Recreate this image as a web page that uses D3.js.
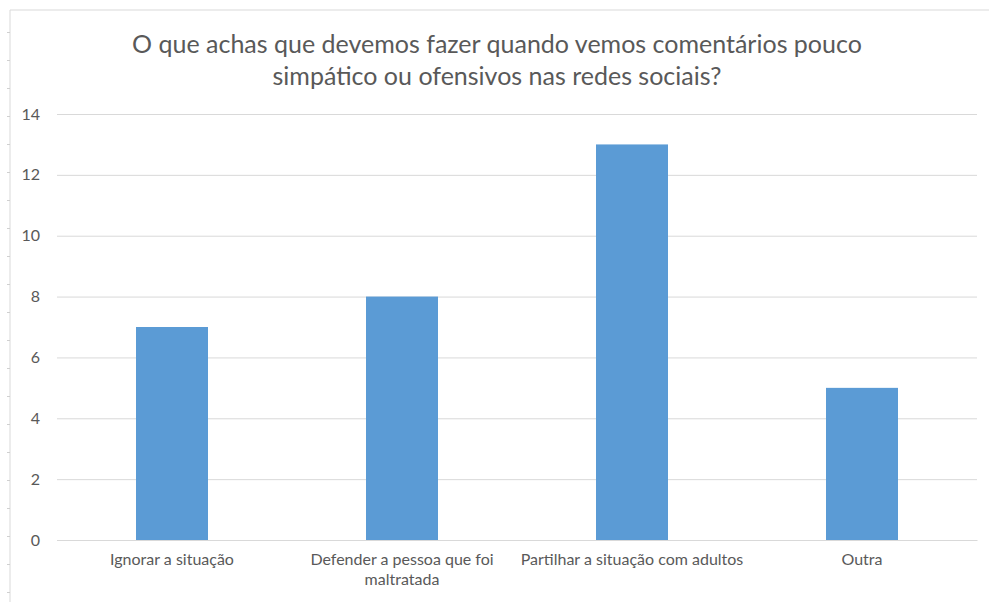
<!DOCTYPE html>
<html>
<head>
<meta charset="utf-8">
<script src="https://cdn.jsdelivr.net/npm/d3@7"></script>
<style>
  html, body { margin: 0; padding: 0; background: #fff; }
  svg { display: block; }
  text { font-family: Lato, "Open Sans", sans-serif; fill: #595959; }
</style>
</head>
<body>
<svg id="chart" width="989" height="602"></svg>
<script>
// Survey answers: what should we do when we see unkind or offensive comments online?
const titleLines = [
  "O que achas que devemos fazer quando vemos comentários pouco",
  "simpático ou ofensivos nas redes sociais?"
];
const categories = [
  "Ignorar a situação",
  "Defender a pessoa que foi maltratada",
  "Partilhar a situação com adultos",
  "Outra"
];
const values = [7, 8, 13, 5];
const yTicks = [0, 2, 4, 6, 8, 10, 12, 14];

const svg = d3.select("#chart");
const W = 989, H = 602;
const plot = { left: 57, right: 977, top: 114, bottom: 540 };

// Chart frame: top and left edges with small row marks along the left side
svg.append("line").attr("x1", 10).attr("x2", W).attr("y1", 10).attr("y2", 10)
  .attr("stroke", "#d9d9d9").attr("stroke-width", 1);
svg.append("line").attr("x1", 10).attr("x2", 10).attr("y1", 10).attr("y2", H)
  .attr("stroke", "#d9d9d9").attr("stroke-width", 1);
svg.append("g").selectAll("line")
  .data(d3.range(32, H, 28))
  .join("line")
  .attr("x1", 7).attr("x2", 10)
  .attr("y1", d => d + 0.5).attr("y2", d => d + 0.5)
  .attr("stroke", "#d0d0d0");

// Title
svg.append("text")
  .attr("x", 497).attr("y", 53)
  .attr("text-anchor", "middle")
  .style("font-size", "25px")
  .selectAll("tspan")
  .data(titleLines)
  .join("tspan")
  .attr("x", 497)
  .attr("dy", (d, i) => i === 0 ? 0 : 32)
  .text(d => d);

const x = d3.scaleBand()
  .domain(categories)
  .range([plot.left, plot.right])
  .paddingInner(0.687)
  .paddingOuter(0.3435);

const y = d3.scaleLinear()
  .domain([0, 14])
  .range([plot.bottom, plot.top]);

// Horizontal gridlines + value labels
const yAxis = d3.axisLeft(y)
  .tickValues(yTicks)
  .tickSize(-(plot.right - plot.left))
  .tickPadding(17)
  .tickFormat(d3.format("d"));

const gy = svg.append("g")
  .attr("transform", `translate(${plot.left},0)`)
  .call(yAxis);
gy.select(".domain").remove();
gy.selectAll(".tick line").attr("stroke", "#d9d9d9").attr("stroke-width", 1);
gy.selectAll(".tick text")
  .style("font-size", "16px")
  .attr("fill", "#595959");

// Bars
svg.append("g")
  .selectAll("rect")
  .data(values)
  .join("rect")
  .attr("x", (d, i) => x(categories[i]))
  .attr("y", d => y(d))
  .attr("width", x.bandwidth())
  .attr("height", d => y(0) - y(d))
  .attr("fill", "#5b9bd5");

// Category axis
const xAxis = d3.axisBottom(x).tickSize(0).tickPadding(14);
const gx = svg.append("g")
  .attr("transform", `translate(0,${plot.bottom})`)
  .call(xAxis);
gx.select(".domain").attr("stroke", "#d9d9d9");
gx.selectAll(".tick text")
  .style("font-size", "16px")
  .attr("fill", "#595959")
  .each(function (d) {
    // wrap long labels within the category band
    const t = d3.select(this);
    const maxW = x.step() - 2;
    const words = d.split(" ");
    t.text(null);
    let line = [];
    let tspan = t.append("tspan").attr("x", 0).attr("dy", "0.71em");
    words.forEach(w => {
      line.push(w);
      tspan.text(line.join(" "));
      if (tspan.node().getComputedTextLength() > maxW && line.length > 1) {
        line.pop();
        tspan.text(line.join(" "));
        line = [w];
        tspan = t.append("tspan").attr("x", 0).attr("dy", "1.25em").text(w);
      }
    });
  });
</script>
</body>
</html>
